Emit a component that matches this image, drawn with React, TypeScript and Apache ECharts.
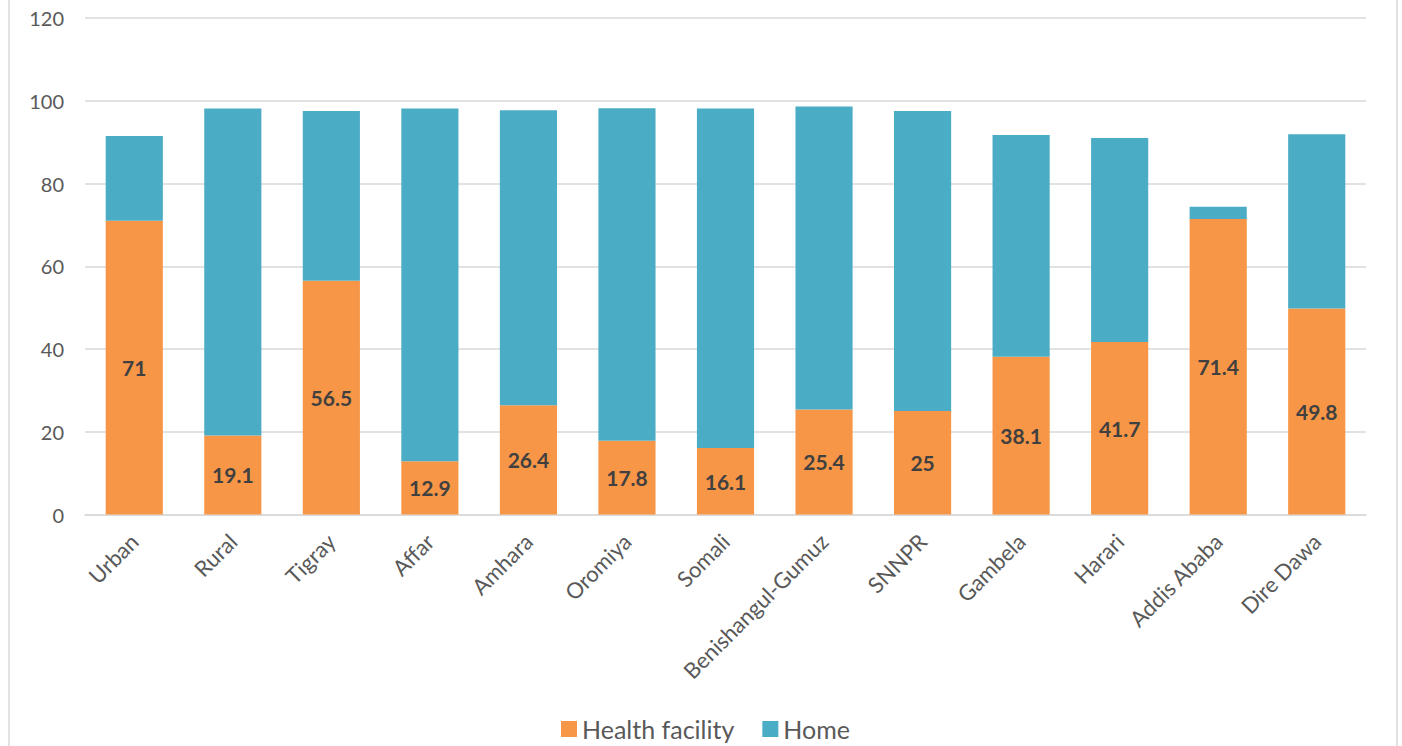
import React, { useEffect, useRef } from "react";
import * as echarts from "echarts";

const categories = [
  "Urban", "Rural", "Tigray", "Affar", "Amhara", "Oromiya", "Somali",
  "Benishangul-Gumuz", "SNNPR", "Gambela", "Harari", "Addis Ababa", "Dire Dawa",
];
const healthFacility = [71, 19.1, 56.5, 12.9, 26.4, 17.8, 16.1, 25.4, 25, 38.1, 41.7, 71.4, 49.8];
const home = [20.5, 79.0, 41.0, 85.2, 71.3, 80.4, 82.0, 73.2, 72.5, 53.6, 49.3, 3.0, 42.1];
const yTicks = { min: 0, max: 120, interval: 20 };

const FONT = "Lato, 'Open Sans', sans-serif";

export default function App() {
  const ref = useRef<HTMLDivElement>(null);
  useEffect(() => {
    if (!ref.current) return;
    const chart = echarts.init(ref.current, undefined, { renderer: "svg" });
    chart.setOption({
      animation: false,
      backgroundColor: "#ffffff",
      textStyle: { fontFamily: FONT },
      graphic: [
        {
          type: "rect",
          shape: { x: 9, y: -10, width: 1388, height: 770 },
          style: { fill: "none", stroke: "#d9d9d9", lineWidth: 1.5 },
          silent: true,
          z: -1,
        },
      ],
      grid: { left: 85, right: 36, top: 18, bottom: 231.5 },
      legend: {
        data: ["Health facility", "Home"],
        left: 556,
        top: 711,
        itemWidth: 16,
        itemHeight: 16,
        itemGap: 28,
        icon: "rect",
        textStyle: { fontSize: 25, lineHeight: 26, color: "#595959", fontFamily: FONT },
      },
      xAxis: {
        type: "category",
        data: categories,
        axisTick: { show: false },
        axisLine: { lineStyle: { color: "#d9d9d9", width: 1.5 } },
        axisLabel: {
          rotate: 45,
          margin: 23,
          fontSize: 22,
          color: "#595959",
          fontFamily: FONT,
          interval: 0,
        },
      },
      yAxis: {
        type: "value",
        min: yTicks.min,
        max: yTicks.max,
        interval: yTicks.interval,
        axisLine: { show: false },
        axisTick: { show: false },
        splitLine: { lineStyle: { color: "#d9d9d9", width: 1.5 } },
        axisLabel: { fontSize: 20, color: "#595959", margin: 21, fontFamily: FONT },
      },
      series: [
        {
          name: "Health facility",
          type: "bar",
          stack: "total",
          data: healthFacility,
          barWidth: "58%",
          itemStyle: { color: "#F79646" },
          label: {
            show: true,
            position: "inside",
            fontSize: 21,
            fontWeight: "bold",
            color: "#404040",
            fontFamily: FONT,
          },
        },
        {
          name: "Home",
          type: "bar",
          stack: "total",
          data: home,
          barWidth: "58%",
          itemStyle: { color: "#4BACC6" },
        },
      ],
    });
    return () => chart.dispose();
  }, []);
  return (
    <div
      ref={ref}
      style={{ position: "fixed", left: 0, top: 0, width: 1402, height: 746 }}
    />
  );
}
